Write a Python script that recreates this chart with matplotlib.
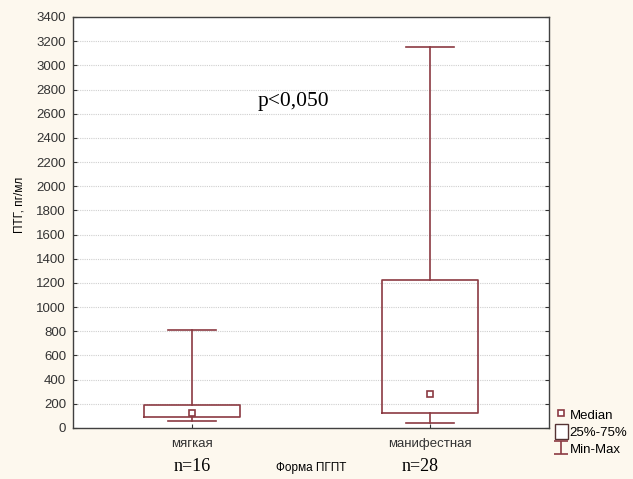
import matplotlib
matplotlib.use('Agg')
import numpy as np
import matplotlib.pyplot as plt
from matplotlib.lines import Line2D
from matplotlib.patches import Patch

groups = ['мягкая', 'манифестная']
n_labels = ['n=16', 'n=28']
mins = [58, 40]
q1 = [88, 124]
medians = [120, 281]
q3 = [190, 1222]
maxs = [814, 3148]
y_ticks = list(range(0, 3401, 200))

red = '#8b3a42'
bg = '#fdf8ee'

fig = plt.figure(figsize=(6.33, 4.79), dpi=100, facecolor=bg)
ax = fig.add_axes([73 / 633, 51 / 479, 476 / 633, 411 / 479])
ax.set_facecolor('white')

stats = []
for i in range(len(groups)):
    stats.append({'whislo': mins[i], 'q1': q1[i], 'med': medians[i],
                  'q3': q3[i], 'whishi': maxs[i], 'fliers': []})
pos = [1, 2]
ax.bxp(stats, positions=pos, widths=0.4, showfliers=False,
       boxprops=dict(color=red, linewidth=1.2),
       whiskerprops=dict(color=red, linewidth=1.2),
       capprops=dict(color=red, linewidth=1.2),
       medianprops=dict(linewidth=0), capwidths=0.2)
ax.plot(pos, medians, linestyle='none', marker='s', markersize=4.5,
        markerfacecolor='white', markeredgecolor=red, markeredgewidth=1.2, zorder=5)

ax.set_xlim(0.5, 2.5)
ax.set_ylim(0, 3400)
ax.set_yticks(y_ticks)
ax.set_xticks(pos)
ax.set_xticklabels(groups, fontfamily='Liberation Sans', fontsize=9.5)
for lab in ax.get_yticklabels():
    lab.set_fontfamily('Liberation Sans')
    lab.set_fontsize(9.5)
ax.tick_params(direction='in', length=3, right=True, colors='#333333', pad=5)
ax.tick_params(axis='x', pad=7)
ax.grid(True, axis='y', linestyle=(0, (1, 1)), color='#cfcfcf', linewidth=0.8)
ax.set_axisbelow(True)
for s in ax.spines.values():
    s.set_color('#404040')
    s.set_linewidth(1)

ax.set_xlabel('Форма ПГПТ', fontfamily='Liberation Sans', fontsize=8.5, labelpad=9)
fig.text(19 / 633, 1 - 205 / 479, 'ПТГ, пг/мл', rotation=90, ha='center', va='center',
         fontfamily='Liberation Sans', fontsize=8.5)

trans = ax.get_xaxis_transform()
ax.text(1.0, -0.093, n_labels[0], transform=trans, ha='center', va='center',
        fontfamily='Liberation Serif', fontsize=13)
ax.text(1.96, -0.093, n_labels[1], transform=trans, ha='center', va='center',
        fontfamily='Liberation Serif', fontsize=13)
ax.text(1.426, 2700, 'p<0,050', ha='center', va='center',
        fontfamily='Liberation Serif', fontsize=15.5)

# legend proxy for the whisker symbol (nothing is drawn on the axes)
eb = ax.errorbar([np.nan], [np.nan], yerr=[[1], [1]], fmt='none', ecolor=red,
                 capsize=5, elinewidth=1.2, capthick=1.2)
handles = [
    Line2D([], [], linestyle='none', marker='s', markersize=4.5,
           markerfacecolor='white', markeredgecolor=red, markeredgewidth=1.2),
    Patch(facecolor='white', edgecolor='#553333', linewidth=1),
    eb,
]
fig.legend(handles, ['Median', '25%-75%', 'Min-Max'], loc='upper left',
           bbox_to_anchor=(555 / 633, 1 - 407 / 479), frameon=False,
           prop={'family': 'Liberation Sans', 'size': 9.5}, handlelength=0.95,
           handleheight=1.3, handletextpad=0.15, labelspacing=0.2, borderpad=0,
           borderaxespad=0)

fig.savefig('out.png', dpi=100, facecolor=bg)
